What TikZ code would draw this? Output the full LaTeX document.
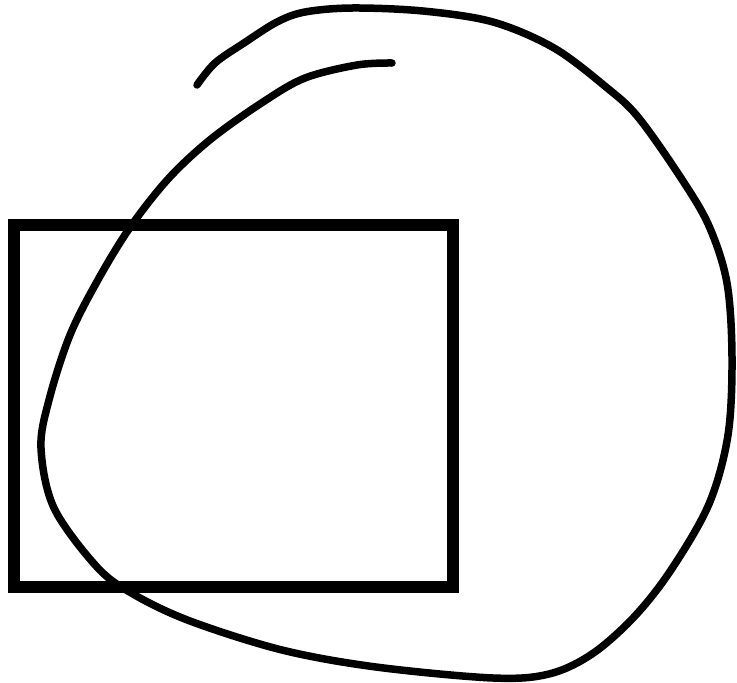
\documentclass[tikz,border=0pt]{standalone}
\begin{document}
\begin{tikzpicture}[x=1pt,y=-1pt,
  boxline/.style={line width=12pt,draw=black},
  stroke/.style={line width=7.5pt,draw=black,line cap=round,line join=round}]
\useasboundingbox (0,0) rectangle (737,683);
\node[boxline,minimum width=439pt,minimum height=362pt,inner sep=0pt,outer sep=0pt,anchor=north west] (box) at (14,225) {};
\draw[stroke] plot[smooth,tension=0.55] coordinates {
(392,63) (357,65) (305,78) (263,102) (211,139) (169,178) (131,226) (99,278)
(70,335) (49,400) (41,448) (54,508) (97,567) (133,594) (190,621) (282,650)
(376,667) (493,678) (549,674) (592,654) (634,617) (671,570) (709,504)
(728,435) (732,357) (727,283) (709,226) (681,178) (638,117) (606,87)
(554,48) (493,22) (423,11) (352,8) (305,12) (277,22) (244,43) (215,63) (197,85)};
\end{tikzpicture}
\end{document}
